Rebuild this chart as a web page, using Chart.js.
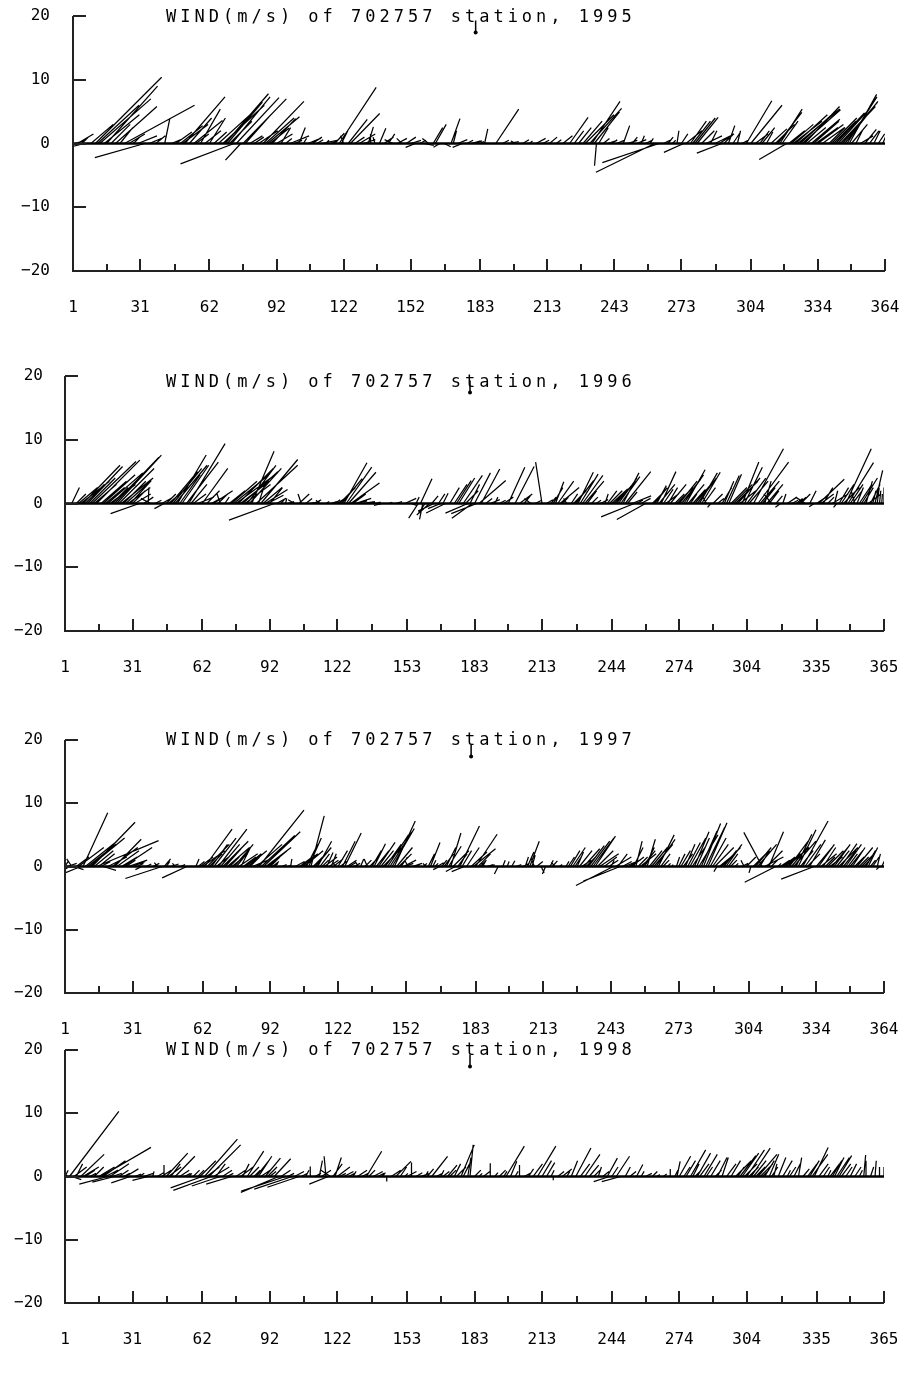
<!DOCTYPE html>
<html>
<head>
<meta charset="utf-8">
<script src="https://cdn.jsdelivr.net/npm/chart.js@4.4.1/dist/chart.umd.min.js"></script>
<style>
  body{margin:0;background:#fff;width:914px;height:1380px;position:relative;overflow:hidden}
  canvas{position:absolute;left:0}
</style>
</head>
<body>
<canvas id="c1995"></canvas>
<canvas id="c1996"></canvas>
<canvas id="c1997"></canvas>
<canvas id="c1998"></canvas>
<script>
// daily wind sticks: [day, u (m/s), v (m/s)]
const wind1995 = [
  [2,1.5,0.5],[3,2.5,1.5],[5,1,1],[6,-4,-1],[9,3.5,3],[11,10.4,10.4],[12,6.5,6],[13,8,7],[15,5.5,4.5],[16,8,9],
  [18,3,3],[20,6.5,5.8],[22,2,2.5],[24,11,6],[26,2.5,1.5],[28,1,1],[30,3,1.2],[33,-7.8,-2.2],[35,2,0.8],[38,1.5,1.2],
  [42,0.8,3.9],[45,1.5,0.6],[47,2.5,1.8],[49,3.5,2.8],[50,4,3],[51,6.3,7.3],[53,3.5,4],[55,4.5,3.6],[56,2,1.5],[58,3.1,5.4],
  [60,2.5,2],[62,2.5,4],[64,2,1.8],[66,5.5,5],[68,6.5,6],[69,6.8,7.8],[70,5.5,6.5],[71,3.5,3.5],[72,6,7.3],[73,-8.4,-3.2],
  [74,6.7,7.2],[76,-2.4,-2.6],[77,6.8,7],[78,4,4.5],[80,2,1.2],[82,1.5,1],[84,3,2],[86,6.4,6.6],[87,4.5,4],[88,5,4.2],
  [89,3,2.4],[90,3.7,3.9],[92,2.5,1.5],[94,1.5,2.5],[96,1,0.8],[98,3,1.2],[100,1.2,0.5],[102,1,2.5],[104,0.5,0.8],[106,2,0.8],
  [108,1.5,1],[110,1,0.6],[112,2.5,0.5],[114,0.5,0.5],[116,1,0.3],[118,1.5,1.6],[120,5.8,8.8],[121,1,2],[122,-0.5,1.2],[124,3,3.8],
  [125,4.6,4.7],[127,1.5,1],[129,2.5,1.5],[131,1.8,0.6],[133,0.8,2.6],[134,0,1.5],[136,-0.3,1],[138,1,2.4],[140,1.5,1],[142,1,1.5],
  [144,-1.3,0.6],[146,1.5,0.8],[148,-0.8,0.8],[150,1.5,1],[152,1.6,0.5],[154,-1.5,-0.6],[156,1,0.5],[158,1.5,-0.3],[160,-1,0.8],[162,1.5,2.5],
  [163,1.7,3],[165,-1,-0.6],[167,1,-0.5],[170,1.4,3.9],[171,0.5,2],[173,1.5,0.6],[175,-1.5,-0.6],[177,1,0.5],[179,1.5,0.4],[181,1,0.4],
  [183,0.6,0.3],[185,0.5,2.3],[190,3.6,5.4],[193,1,0.5],[196,1.5,0.3],[199,-0.8,0.4],[202,1,0.6],[205,0.5,0.4],[208,1.5,0.8],[211,1,0.5],
  [214,1.2,1],[217,0.8,0.6],[220,1.5,1.2],[223,2.9,4.1],[225,1.5,2],[227,2,2.5],[229,3,3.5],[230,4.5,4.5],[232,5,5.5],[233,4.4,6.6],
  [234,4,5],[235,-0.3,-3.5],[236,1.5,2.5],[238,1,0.8],[240,1.5,0.5],[242,0.8,0.6],[244,1.2,0.5],[247,1,2.8],[249,1.5,0.5],[251,0.8,1],
  [253,1.5,0.6],[255,0.5,1.2],[257,1,0.5],[259,0.5,0.8],[261,-9.2,-4.5],[263,-8.9,-3],[265,1,0.5],[267,0.8,1],[269,0.5,0.5],[271,0.3,2],
  [273,1,1.5],[274,-3.1,-1.4],[275,2.5,2],[277,2.5,3.5],[278,2.8,3.5],[279,3.2,4],[280,3.3,4.1],[282,2,2],[284,2.5,1.2],[286,1,2],
  [288,3,1.5],[290,1.5,1],[291,-3.9,-1.5],[292,1.5,1.5],[294,1,2.8],[296,1.2,1.8],[298,0.5,2],[300,1,0.5],[302,4,6.7],[304,4.9,6],
  [306,2,1.5],[308,1.5,2],[309,2,2.5],[311,1,1.8],[313,2.5,2.3],[315,3,3],[316,3.8,4.9],[317,3.5,5.4],[318,2.5,3.5],[320,-4.3,-2.5],
  [321,2.5,2],[322,3.5,3],[323,4.5,3.5],[324,5,4.5],[325,6.6,5.4],[326,5.5,5],[327,6,5.3],[328,5.5,5.8],[329,3,2.5],[331,4.5,3.8],
  [332,4,3.5],[333,3.5,2.5],[334,4,3],[336,3.5,2.5],[339,2.5,2.5],[340,4,4],[341,3.5,3.5],[342,4.5,4.8],[343,5,5.5],[344,5.5,5.8],
  [345,5.5,6.5],[346,5.2,6.6],[347,4.7,7.3],[348,4.3,7.7],[349,2.5,3],[351,1,2],[353,2,1.2],[355,1.8,2.2],[357,1.5,2],[359,1,2],
  [361,1,1.5],[363,0.5,1.2]
];
const wind1996 = [
  [4,1.2,2.5],[6,1.5,1.5],[7,3,2.5],[8,4.5,3.5],[9,5.8,6],[10,3,3],[11,5.5,5.8],[12,4,4],[13,6.9,6.6],[14,3.5,3],
  [15,6.8,6.8],[17,4,3.5],[18,5,4.5],[19,3,2.5],[20,5.5,4.8],[21,4,3],[22,2.5,2.5],[23,6.9,7.2],[24,7,7.6],[25,5.5,5.5],
  [26,5,4],[27,3.5,3.5],[28,4,3.6],[29,3.5,2.5],[30,3.3,3.6],[31,2,2],[32,2.5,1.5],[34,-4.5,-1.6],[36,1.5,1],[38,0.1,2.5],
  [39,-1.5,0.8],[41,1,0.5],[44,1.5,0.8],[45,-1.5,-0.8],[46,1.5,1.5],[47,3,2.5],[48,4.2,5],[49,4.5,5.5],[50,5,6],[51,4.5,7.6],
  [52,3.2,4.5],[53,4.2,6],[55,5,6.5],[56,5.7,9.4],[57,2.5,3],[58,2,1.5],[60,2.5,1],[62,4,5.5],[64,2,2],[66,1.5,0.8],
  [67,3,2],[69,1.5,1.5],[70,-0.5,1.5],[72,0.7,1],[74,2.5,2],[75,4,3.5],[76,5.5,4.5],[77,6.5,4.8],[78,5.5,5.5],[79,4.5,3.5],
  [80,5.5,5],[81,4,3],[82,4.5,6],[83,5,5.5],[84,3.5,8.2],[86,6.5,6],[87,1,3],[88,5.8,6.9],[89,3,2.5],[90,3.5,2.2],
  [91,2.5,1.3],[92,2,2.5],[94,-7.1,-2.6],[95,1.5,0.8],[97,0.5,0.6],[99,0.2,0.8],[100,1,0.3],[103,-1,0.6],[105,1.6,1.5],[106,-0.5,1.5],
  [108,1,0.8],[110,1.5,0.3],[112,1,0.6],[114,-0.5,0.5],[117,0.5,0.3],[119,1,0.3],[121,0.8,0.6],[122,1.5,1],[123,2.5,2.5],[124,3.2,3.9],
  [125,3.6,6.4],[126,4,5.7],[127,4.3,4.9],[128,4.5,3.2],[129,2,1.5],[130,2.5,0.8],[131,1.5,0.4],[133,2,0.3],[136,1,0.2],[139,0.8,0.2],
  [142,-1.3,-0.3],[145,0.5,0.2],[148,1,0.3],[152,1.8,0.8],[155,0.8,-0.3],[157,0.5,1],[158,-1.5,-2.3],[159,1.8,3.9],[160,-0.5,-2.5],[161,-1,-1.5],
  [163,-2,-1.8],[164,1,1.2],[165,-2.5,-1.2],[167,1,1.5],[168,-2,-0.8],[169,0.8,1.6],[170,-3,-1.5],[172,1.5,2.5],[174,2,3],[175,2.3,3.6],
  [176,2.5,4],[178,3,4.4],[179,2,2],[180,-3.5,-1.5],[181,1.5,3],[182,-3.2,-2.3],[183,2.5,4.8],[184,-4,-1.6],[185,4.2,3.6],[186,2.9,5.4],
  [188,1,0.8],[190,1.5,0.6],[192,0.5,1],[194,1,0.5],[196,1.5,1],[198,2.6,5.7],[201,3,5.8],[203,2,1.5],[205,1,1.2],[208,-1,0.8],
  [210,1,0.5],[213,-1,6.5],[215,1,0.6],[217,0.8,1],[218,1.5,2.5],[219,1.3,3.4],[220,2.5,3.5],[221,3,2.5],[222,1,1],[224,-0.5,0.8],
  [226,1,1.5],[227,2,2],[228,2.8,3.6],[229,2.4,4.9],[230,2.8,4.6],[231,3.2,4.4],[232,3,3.5],[233,1.5,2],[235,1,1],[237,0.8,0.5],
  [239,1.2,0.6],[241,0.5,1.5],[242,1.5,2],[243,2,2],[244,2.5,2.3],[245,3,3],[246,3,3.5],[247,2.9,4],[248,3,4.2],[249,2.5,4.8],
  [250,4,5],[251,1.5,1.8],[253,3,1.2],[254,-5.2,-2.1],[255,1,0.5],[257,1.5,0.8],[259,-4.5,-2.5],[262,1.5,1.5],[263,2,2.5],[264,1.5,2.8],
  [265,2.5,3],[266,2.3,5],[267,1.5,2.2],[268,2,1.5],[269,1.5,2.5],[270,2.5,3],[272,1.5,1.5],[273,2.5,2.5],[274,2.8,3.5],[275,3,3.8],
  [276,3.1,4.5],[277,3,5.3],[278,2.5,3],[279,1,1.5],[280,2,2.2],[281,2.5,3],[282,3,4],[283,2.8,4.8],[284,2.9,4.9],[285,1.8,2.5],
  [286,-0.5,1],[288,-0.5,-0.6],[289,1.5,1.5],[291,1,0.8],[293,1.5,2.5],[294,1.5,3.5],[295,2,4.4],[296,2,4.6],[297,2.5,2.5],[298,3,3],
  [299,3.5,3.5],[300,3.5,4],[301,2.5,2],[302,2.6,6.5],[303,2.8,5.7],[304,3,4],[305,3,3.5],[307,4.7,8.6],[309,4.8,6.5],[310,3,3.5],
  [311,2,2.5],[312,1,3.5],[313,2.5,3],[314,1.5,2],[315,-1.2,1.5],[317,1,1.2],[319,-0.8,-0.6],[320,0.5,1.5],[322,1.5,1],[324,1,0.5],
  [326,1,0.8],[327,1.2,1],[328,1.5,1.5],[330,-1.5,1],[332,1,2],[334,-0.8,-0.5],[335,1.5,1],[336,4,3.8],[337,2,1.5],[338,1.5,2.5],
  [340,1,1],[342,2.5,1.5],[343,0.5,2],[344,-0.5,-0.6],[345,1.5,2.5],[346,2,3],[347,2.5,2.5],[348,4,8.6],[349,4,6.4],[350,2,3],
  [351,1.5,2],[352,-0.5,1.8],[353,1,2.5],[354,2,3],[355,2.5,4],[356,1.5,2.5],[357,1,3.5],[358,2,1.5],[359,1.5,3],[360,0.5,2],
  [361,1.2,5.2],[362,0.3,2.5],[363,0.2,2],[364,0.1,1.5],[365,0,2.5]
];
const wind1997 = [
  [1,0.5,0.8],[2,1.5,0.5],[3,-1,-0.6],[4,-0.8,1.2],[5,1.5,-0.5],[6,2,1.5],[7,4,3],[8,-2.5,-1],[9,3.9,8.5],[10,5,4],
  [11,4.5,3.5],[12,5.5,4.5],[13,6.8,7],[14,3,2.5],[15,9.8,4.1],[16,2.5,2],[17,1.5,0.8],[18,2,-0.6],[20,3,1.5],[22,4,3],
  [23,4.2,4.3],[24,3.5,2.5],[26,2.5,1.5],[27,4.5,3],[28,1.5,1],[29,3,1],[31,2,0.8],[33,1,0.5],[35,-1,-0.5],[37,0.8,0.4],
  [40,1,0.5],[42,-0.5,0.6],[44,-5.8,-1.9],[45,1,1.2],[46,0.5,0.8],[48,1.2,0.4],[50,-0.5,0.5],[52,0.8,0.3],[55,-3.9,-1.8],[59,0.5,1.2],
  [60,1,0.8],[61,2,1.5],[62,3.5,2.5],[63,4.3,5.9],[64,3.5,3.5],[65,2,2],[66,2.5,3.5],[67,3.5,4.5],[68,2,1.5],[69,4.5,5.9],
  [70,3,3.5],[71,4,4],[72,2.5,2.8],[73,3.5,3],[74,1.5,1.5],[75,2.5,2],[76,3,3.5],[77,2,2.5],[78,3,2],[79,1.5,3],
  [80,2,1.5],[81,2.5,2],[82,3,2.5],[83,1.5,1.5],[84,2.5,1],[86,4,3.5],[87,7.1,8.9],[88,5.3,4.9],[89,5.8,5.5],[90,4,3],
  [91,3,2.5],[92,1.5,1.5],[93,1,0.8],[94,0.5,0.5],[97,0.8,0.3],[100,0.5,0.3],[101,0.2,1.2],[103,1.5,0.8],[105,2,1.5],[106,2.5,2],
  [107,3,2.5],[108,1.8,3.5],[109,2,4.5],[110,2.1,8],[111,1.5,1.5],[112,2.5,3],[113,2.2,4],[114,1.5,2],[115,1,1],[116,2,1.5],
  [117,1,2.2],[118,1.5,1],[119,0.8,2],[120,1.5,1.2],[121,-0.5,0.6],[122,1.5,2.5],[123,1,0.8],[124,2,4],[125,2.6,5.3],[126,1.5,1],
  [127,1,0.6],[129,1,0.5],[131,-0.5,0.8],[132,0.5,1.2],[134,1,1],[135,-0.5,1.2],[136,1.5,1.5],[137,1.5,2.5],[138,1.8,3.6],[139,2,2.5],
  [140,2.6,3.8],[141,2,2.5],[142,3,3],[143,2.5,3.5],[144,3.3,5],[145,3.5,5.5],[146,3.5,6],[147,3.3,7.2],[148,2.5,3],[149,2,2],
  [150,1,1.5],[151,2,1],[152,1.2,0.5],[153,-0.5,1],[155,1.5,0.5],[157,0.5,0.4],[160,0.5,0.5],[161,-0.5,0.5],[162,1,2],[163,1.5,3.8],
  [164,0.5,1],[165,0.5,0.5],[166,1,0.6],[167,-1,-0.5],[168,0.8,1],[169,1.5,2],[170,1.5,3],[171,2,3.2],[172,1.6,5.3],[173,2.5,2.5],
  [174,-1.5,-0.8],[175,1.5,2],[176,3.1,6.4],[177,1.5,2.5],[178,-2,-0.8],[179,2,3],[181,2.5,2.3],[182,3.5,2.8],[183,3.4,5.1],[184,2,2],
  [185,1,1],[186,0.5,0.8],[187,-0.5,0.6],[188,1,0.3],[190,0.5,0.3],[193,-0.6,-1.2],[195,0.4,1],[197,0.3,0.8],[199,0.5,0.9],[201,0.8,0.3],
  [204,1,0.5],[205,0.5,1.5],[206,1,2.3],[207,1.5,4],[208,0.5,1.8],[209,-0.5,1.3],[210,1,0.8],[212,0.5,-1],[214,-0.5,-1.2],[216,0.5,1],
  [217,0.8,0.9],[218,-0.5,0.7],[220,0.5,0.3],[223,0.5,0.8],[224,1,1.5],[225,1.5,2.5],[226,2,3],[227,1,1.5],[228,1,2.3],[229,2,2.5],
  [230,1.5,1],[231,2.5,2.8],[232,1.5,1.5],[233,2.5,3.3],[234,3,4],[235,3.3,4.5],[236,3.2,4.8],[237,2.5,2.5],[238,3,2],[240,2,1.5],
  [242,1.5,1],[243,0.5,1],[244,-5.9,-3],[245,2.5,1.5],[246,1.5,2],[247,-5.8,-2.3],[248,1.5,0.8],[249,2.5,1],[251,1,0.6],[252,2,1.5],
  [253,1.5,3],[254,1,4],[255,1.5,1.5],[256,2.5,2],[257,2,2.5],[258,1.5,3],[259,1.3,4.3],[260,2,2.5],[261,2.5,3],[262,3,3.5],
  [263,3,4.3],[264,2.5,5],[265,1.5,2],[266,1,1],[268,0.5,0.5],[270,0.2,0.3],[272,0.5,1.5],[273,1,2],[274,1.5,2.5],[275,1.5,2],
  [276,1.5,3.5],[277,2,3.8],[278,2.5,4.5],[279,2,3],[280,2.3,5.5],[281,2,4.5],[282,3,5],[283,2.5,5.6],[284,2.7,6.8],[285,3,6.2],
  [286,3,6.9],[287,2.5,4.5],[288,2.5,3.5],[289,3,3],[290,-0.5,-0.8],[291,2.5,2],[292,3,3],[293,2,2.5],[294,2.5,3.5],[295,1.5,2],
  [296,1,1],[298,0.5,0.5],[301,1,0.5],[302,-0.5,1],[303,1.5,1.5],[305,-0.3,-1],[306,2,2],[307,2.5,3],[308,3,3.5],[309,1.5,2.5],
  [310,-2.9,5.4],[311,3,1.5],[312,2.5,2.5],[313,2.3,5.5],[314,1,1],[316,-4.9,-2.5],[317,0.5,0.5],[318,1.5,1],[319,2,1.5],[320,2.5,2],
  [321,3.5,3],[322,3,4],[323,2.5,3],[324,3.5,4],[325,2.5,5.1],[326,2.8,5.8],[327,2,2.5],[328,4,7.2],[329,2.5,3.5],[330,2,2],
  [331,2.5,4.2],[333,-5.2,-2],[334,2.5,3],[335,2.5,3.5],[336,2.5,2],[337,2,3],[338,1.5,1.5],[339,2.5,2.5],[340,2,1.5],[341,2.5,3],
  [342,2.5,3.5],[343,2,2.5],[344,3,3],[345,2.5,3.6],[346,2,2.5],[347,2.5,3.5],[348,1.5,2],[349,2,2.5],[350,2,3],[351,1.5,1.5],
  [352,2.5,3],[353,1.5,1.5],[354,2,2],[355,1,1],[356,1.5,2.5],[357,1.5,3],[358,0.8,1],[359,1,1.5],[361,0.5,2],[362,-0.5,-0.5],
  [363,0.5,1],[364,0.3,0.5]
];
const wind1998 = [
  [1,0.5,1],[2,-1,1.5],[3,7.8,10.3],[4,1.5,-0.5],[5,2,1.5],[6,1,2],[8,3.7,3.5],[9,2.5,1.5],[10,1.5,1],[12,1,0.5],
  [14,1.5,1.5],[16,2.5,1.5],[17,7.9,4.6],[18,3.5,2.5],[19,2,1],[20,-4.5,-1.2],[21,3,2],[22,1.5,0.5],[23,-3.5,-0.9],[25,1.5,1],
  [27,1,0.5],[28,2,1.2],[30,-3,-1],[32,1,0.4],[34,0.8,0.5],[36,1.5,0.5],[38,-2.5,-0.6],[40,0.2,0.8],[42,1,0.6],[44,1.5,1],
  [45,0,1.8],[46,3.4,3.7],[47,2,1.5],[48,1.5,2],[50,3.1,3.2],[52,1.5,1],[54,1,0.5],[56,0.5,0.5],[58,1,1],[60,1,1],
  [61,2.5,2.5],[62,-5,-1.8],[63,5.2,5.9],[64,2,1.5],[65,5,5],[66,-6,-2.2],[67,2.5,1.5],[68,1.5,2],[70,-4.5,-1.5],[71,1.5,1],
  [73,1,0.5],[75,-4,-1.2],[77,1.5,1],[79,2,1.5],[80,1,2],[82,2.6,4],[83,1.5,1.5],[85,1,1],[86,2,2.5],[87,2.1,3.2],
  [88,1.5,1],[90,2.4,2.9],[91,1.5,1.5],[92,1,0.8],[94,2.6,2.8],[96,-6,-2.5],[97,1.5,1],[99,-7,-2.3],[100,1,0.5],[102,-6,-2],
  [103,1.5,0.8],[105,-5,-1.7],[106,1,0.5],[108,0.5,1],[110,0,1.6],[112,1,0.5],[114,0.5,2.5],[115,1.5,1],[117,-0.3,3.2],[118,-3,-1.2],
  [119,-1.5,1],[120,1.5,2],[121,1,3],[122,2,1.5],[123,1,0.5],[125,1.5,0.8],[127,1,0.5],[129,0.5,0.8],[131,1.5,1],[133,1,0.5],
  [135,2.4,4],[136,1,1],[138,1.5,0.8],[140,1,0.5],[142,0.5,0.6],[144,0,-0.8],[146,1.5,1],[148,2.4,2.4],[150,1,1.5],[152,0.5,0.5],
  [153,1.5,0.8],[155,0,2.2],[157,1,0.6],[159,1.5,0.5],[161,0.5,0.8],[162,1,1.2],[164,2.5,3.2],[166,1,0.5],[168,0.5,1],[169,1,0.8],
  [171,1.5,1.8],[172,1,1],[174,1,2],[175,1.5,1.5],[177,2.1,5],[178,1,2],[180,0.5,3],[181,0.5,5],[183,1,1],[185,0.5,0.5],
  [187,1,0.8],[190,0,2.1],[192,0.5,0.6],[194,1,1],[196,0.5,0.8],[197,2.9,4.8],[199,1,2.4],[201,0.5,0.8],[203,0,1.8],[205,1,0.5],
  [207,0.8,1.2],[209,1.5,2],[211,2.9,4.8],[213,1.5,2.5],[215,1.3,2.2],[217,0.5,1],[218,0,-0.6],[220,1,0.8],[222,1.5,1.2],[224,0.5,0.8],
  [226,1,2.5],[228,2.4,4.5],[230,1.5,2],[232,2.4,3.5],[234,1.5,1.8],[236,1,1],[238,0.5,1.5],[240,1,0.8],[242,1.6,2.9],[243,-2.5,-0.8],
  [244,1,1.5],[246,2.1,3.2],[248,-3,-0.8],[250,0.8,1.5],[252,1,0.8],[255,1,1.9],[257,0.5,0.8],[259,1,0.5],[262,0.8,0.8],[264,0.5,0.3],
  [267,0.5,0.4],[270,0,1.2],[272,0.5,1],[273,0.5,2.4],[274,1.8,3.2],[276,1,1.5],[277,1.5,2.5],[279,2.4,4.2],[280,1,2],[281,1,1],
  [282,2.1,3.7],[283,1.5,2],[285,2.1,3.5],[286,1,1.5],[288,1.5,2.5],[290,1,1],[291,1.5,3],[293,1,3],[295,1.5,2],[297,1.5,2.5],
  [299,2.5,2.5],[300,1,1.5],[301,2.5,3.3],[302,2.6,3.7],[303,2,2],[304,2.8,4.2],[305,1.5,1.5],[306,3,4.5],[307,2,2.5],[308,1.5,1.5],
  [309,3,3.5],[310,2,2],[311,1,1],[312,1.5,2.5],[314,1.5,3.5],[315,1,1.5],[316,0.5,2],[318,1.2,3],[320,1.5,2.5],[322,0.5,1],
  [323,1,1.5],[325,1,2],[327,0.5,3],[329,1,1.2],[331,1.5,2],[332,1.5,2.5],[333,2.5,3.5],[334,2.2,4.6],[336,1.5,2],[338,1,1.5],
  [340,0.5,1],[341,1.5,2],[342,1.5,2.5],[343,1.5,3],[344,2,3],[345,2,3.3],[346,1.5,2],[348,1,1.5],[350,1,2],[352,1,1.5],
  [354,0.5,1],[356,0.3,3.4],[357,0,2.5],[359,0.5,1.5],[361,0.2,2.5],[363,0,1.5],[365,0,1.5]
];

// labelled day ticks on each x axis
const ticks1995 = [1,31,62,92,122,152,183,213,243,273,304,334,364];
const ticks1996 = [1,31,62,92,122,153,183,213,244,274,304,335,365];
const ticks1997 = [1,31,62,92,122,152,183,213,243,273,304,334,364];
const ticks1998 = [1,31,62,92,122,153,183,213,244,274,304,335,365];
const yTicks = [-20,-10,0,10,20];
// small reference arrow drawn under the title
const keyMark = [[181,19.3],[181,17.4]];

// layout of the four stacked panels (pixels)
const panels = [
  {id:'c1995', year:1995, wind:wind1995, ticks:ticks1995, top:0,    h:335, left:73, right:885, plotTop:16, plotBottom:271, labPad:23, titleDy:2},
  {id:'c1996', year:1996, wind:wind1996, ticks:ticks1996, top:340,  h:350, left:65, right:884, plotTop:36, plotBottom:291, labPad:22, titleDy:7},
  {id:'c1997', year:1997, wind:wind1997, ticks:ticks1997, top:700,  h:335, left:65, right:884, plotTop:40, plotBottom:293, labPad:22, titleDy:1},
  {id:'c1998', year:1998, wind:wind1998, ticks:ticks1998, top:1035, h:345, left:65, right:884, plotTop:15, plotBottom:268, labPad:22, titleDy:1}
];

const FONT = '"DejaVu Sans Mono", "Liberation Mono", monospace';

function makePanel(p){
  const cv = document.getElementById(p.id);
  cv.width = 914; cv.height = p.h; cv.style.top = p.top + 'px';
  const first = p.ticks[0], last = p.ticks[p.ticks.length-1];
  // minor ticks sit halfway between labelled ones
  const minors = [];
  for (let i=0;i<p.ticks.length-1;i++) minors.push((p.ticks[i]+p.ticks[i+1])/2);
  const allTicks = p.ticks.concat(minors).sort((a,b)=>a-b);

  // wind sticks: from (day,0) to (day + u, v), u scaled like the y axis
  const sticks = {
    id:'sticks',
    afterDatasetsDraw(chart){
      const {ctx, chartArea:a, scales:{x, y}} = chart;
      const unit = y.getPixelForValue(0) - y.getPixelForValue(1);
      ctx.save();
      ctx.beginPath(); ctx.rect(a.left, a.top, a.right-a.left, a.bottom-a.top); ctx.clip();
      ctx.strokeStyle = '#000'; ctx.lineWidth = 1.25;
      ctx.beginPath();
      p.wind.forEach(([d,u,v])=>{
        const x0 = x.getPixelForValue(d), y0 = y.getPixelForValue(0);
        ctx.moveTo(x0, y0);
        ctx.lineTo(x0 + u*unit, y.getPixelForValue(v));
      });
      ctx.stroke();
      ctx.restore();
    }
  };

  // axes with inward tick marks and the title
  const frame = {
    id:'frame',
    afterDraw(chart){
      const {ctx, chartArea:a, scales:{x, y}} = chart;
      ctx.save();
      ctx.strokeStyle = '#222'; ctx.lineWidth = 2;
      ctx.beginPath();
      ctx.moveTo(a.left, a.top); ctx.lineTo(a.left, a.bottom); ctx.lineTo(a.right, a.bottom);
      yTicks.forEach(t=>{
        const yy = Math.round(y.getPixelForValue(t));
        ctx.moveTo(a.left, yy); ctx.lineTo(a.left + 13, yy);
      });
      allTicks.forEach(t=>{
        const xx = Math.round(x.getPixelForValue(t));
        const len = p.ticks.includes(t) ? 12 : 7;
        ctx.moveTo(xx, a.bottom); ctx.lineTo(xx, a.bottom - len);
      });
      ctx.stroke();

      ctx.fillStyle = '#000';
      ctx.font = '17px ' + FONT;
      ctx.letterSpacing = '4px';
      ctx.textAlign = 'left';
      ctx.textBaseline = 'middle';
      ctx.fillText('WIND(m/s) of 702757 station, ' + p.year, 166, a.top + p.titleDy);
      ctx.restore();
    }
  };

  new Chart(cv, {
    type:'line',
    data:{datasets:[
      {data:[{x:first,y:0},{x:last,y:0}], borderColor:'#000', borderWidth:2.5, pointRadius:0},
      {data:keyMark.map(k=>({x:k[0],y:k[1]})), borderColor:'#000', borderWidth:1.5,
       pointRadius:[0,2], pointBackgroundColor:'#000', pointBorderWidth:0}
    ]},
    options:{
      responsive:false, animation:false, devicePixelRatio:1,
      layout:{padding:{top:p.plotTop, right:914-p.right, left:0, bottom:0}},
      plugins:{legend:{display:false}, tooltip:{enabled:false}},
      scales:{
        x:{
          type:'linear', min:first, max:last,
          grid:{display:false, drawTicks:false}, border:{display:false},
          afterBuildTicks:s=>{ s.ticks = allTicks.map(v=>({value:v})); },
          afterFit:s=>{ s.height = p.h - p.plotBottom; s.paddingLeft = 0; s.paddingRight = 0; },
          ticks:{autoSkip:false, maxRotation:0, padding:27, color:'#000',
                 font:{family:FONT, size:16},
                 callback:v=> p.ticks.includes(v) ? String(v) : ''}
        },
        y:{
          min:-20, max:20,
          grid:{display:false, drawTicks:false}, border:{display:false},
          afterBuildTicks:s=>{ s.ticks = yTicks.map(v=>({value:v})); },
          afterFit:s=>{ s.width = p.left; s.paddingTop = 0; s.paddingBottom = 0; },
          ticks:{padding:p.labPad, color:'#000', font:{family:FONT, size:16},
                 callback:v=> v<0 ? '\u2212' + Math.abs(v) : String(v)}
        }
      }
    },
    plugins:[sticks, frame]
  });
}

panels.forEach(makePanel);
</script>
</body>
</html>
